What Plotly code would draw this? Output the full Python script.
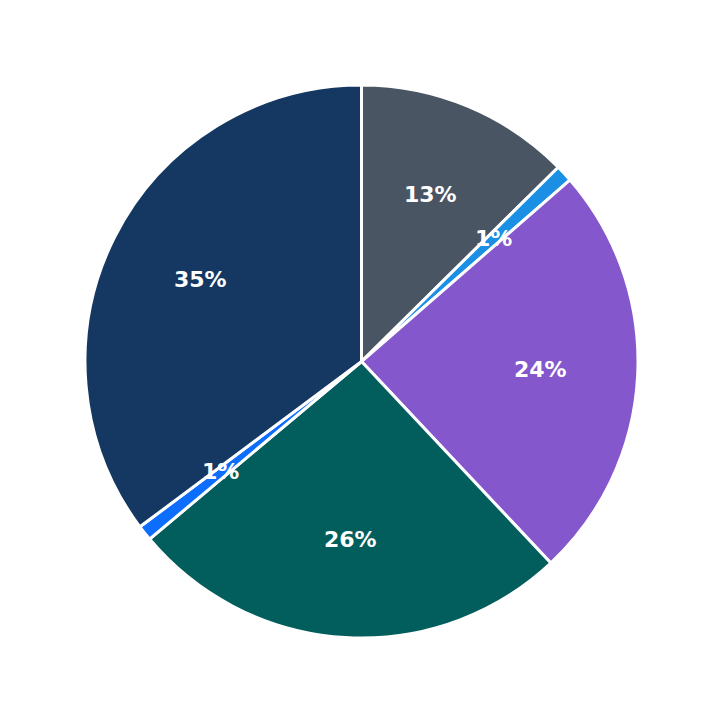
import math
import plotly.graph_objects as go

categories = ["A", "B", "C", "D", "E", "F"]
values = [12.6, 1.0, 24.4, 25.9, 0.9, 35.2]
labels_text = ["13%", "1%", "24%", "26%", "1%", "35%"]
colors = ["#4a5563", "#1a8fe3", "#8557cc", "#025e5c", "#0d6efd", "#143861"]

W = 723
M = 85
D = W - 2 * M
R = D / 2
label_r = 0.65 * R

fig = go.Figure(go.Pie(
    labels=categories,
    values=values,
    sort=False,
    direction="clockwise",
    rotation=0,
    marker=dict(colors=colors, line=dict(color="white", width=3)),
    textinfo="none",
    hoverinfo="label+percent",
    showlegend=False,
))

total = sum(values)
cum = 0.0
annotations = []
for v, t in zip(values, labels_text):
    mid = (cum + v / 2) / total * 2 * math.pi
    cum += v
    x = 0.5 + label_r * math.sin(mid) / D
    y = 0.5 + label_r * math.cos(mid) / D
    annotations.append(dict(
        x=x, y=y + 1.0 / D, xref="paper", yref="paper", text=t, showarrow=False,
        font=dict(family="DejaVu Sans", size=22, color="white", weight="bold"),
        xanchor="center", yanchor="middle",
    ))

fig.update_layout(
    width=W, height=W,
    margin=dict(l=M, r=M, t=M, b=M),
    paper_bgcolor="white",
    plot_bgcolor="white",
    annotations=annotations,
    font=dict(family="DejaVu Sans"),
)

fig.write_html("out.html")
